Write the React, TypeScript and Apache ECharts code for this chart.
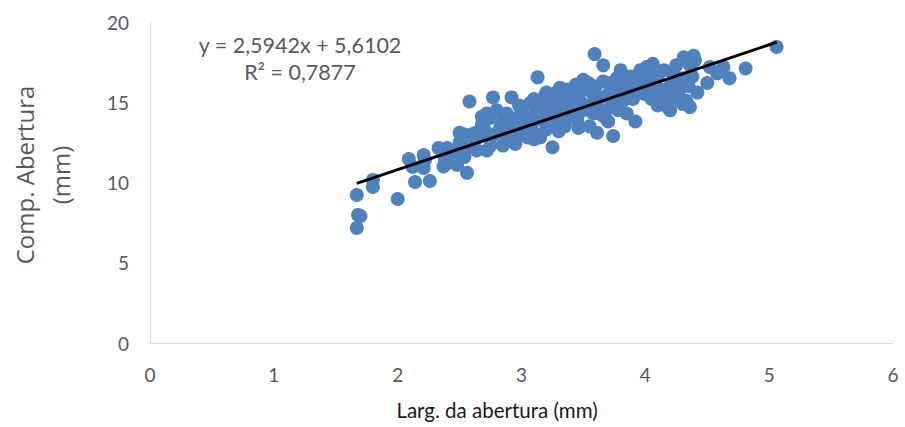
import React, { useEffect, useRef } from "react";
import * as echarts from "echarts";

const xTicks = [0, 1, 2, 3, 4, 5, 6];
const yTicks = [0, 5, 10, 15, 20];

const points: number[][] = [
  [1.67, 7.17], [1.68, 7.98], [1.70, 7.91], [1.67, 9.22], [1.80, 9.72], [1.80, 10.16], [2.00, 8.97],
  [2.09, 11.46], [2.12, 10.97], [2.14, 10.03], [2.21, 11.71], [2.22, 11.40], [2.21, 10.90], [2.26, 10.09],
  [2.33, 12.15], [2.40, 12.15], [2.40, 11.21], [2.37, 11.0], [2.48, 11.1], [2.38, 11.4], [2.54, 11.6],
  [2.56, 10.6], [2.58, 15.05], [2.50, 13.1], [2.53, 13.0], [2.64, 12.0], [2.72, 12.0], [2.63, 13.1],
  [2.68, 14.1], [2.77, 15.3], [2.75, 12.8], [2.88, 12.6], [2.96, 13.3], [3.0, 14.5], [2.85, 13.9],
  [2.80, 14.5], [3.05, 13.7], [2.92, 15.3], [2.72, 14.3], [2.83, 13.5], [2.88, 14.3], [3.01, 14.1],
  [2.93, 12.65], [2.99, 13.1], [3.15, 12.8], [3.07, 14.95], [3.2, 15.6], [3.13, 16.55], [3.25, 12.2],
  [3.34, 14.7], [3.29, 13.7], [3.42, 14.1], [3.46, 13.4], [3.47, 15.6], [3.31, 15.9], [3.5, 16.4],
  [3.59, 18.0], [3.66, 17.3], [3.58, 14.3], [3.59, 15.3], [3.61, 13.1], [3.74, 12.9], [3.72, 14.7],
  [3.74, 15.8], [3.82, 15.1], [3.85, 14.3], [3.92, 13.8], [3.88, 16.6], [3.8, 17.0], [3.96, 17.0],
  [3.96, 15.95], [4.01, 17.2], [4.04, 15.8], [4.06, 16.4], [4.06, 17.4], [4.1, 14.8], [4.12, 15.3],
  [4.18, 14.7], [4.2, 14.5], [4.22, 16.8], [4.28, 16.2], [4.31, 17.8], [4.39, 17.9], [4.36, 17.3],
  [4.42, 15.6], [4.36, 14.7], [4.5, 16.2], [4.52, 17.2], [4.58, 16.8], [4.63, 17.2], [4.68, 16.5],
  [4.81, 17.1], [5.06, 18.45],
  [2.6, 12.5], [2.65, 12.8], [2.7, 13.3], [2.78, 13.0], [2.82, 13.2], [2.9, 13.6], [2.95, 14.0],
  [3.0, 13.5], [3.03, 12.9], [3.08, 13.4], [3.1, 14.2], [3.12, 13.0], [3.15, 14.6], [3.18, 13.8],
  [3.2, 14.9], [3.22, 14.1], [3.25, 15.2], [3.28, 14.4], [3.3, 15.0], [3.33, 15.4], [3.36, 14.0],
  [3.38, 15.1], [3.4, 15.5], [3.43, 14.8], [3.45, 15.9], [3.48, 15.0], [3.5, 14.5], [3.52, 15.8],
  [3.54, 16.2], [3.55, 14.8], [3.57, 15.6], [3.6, 16.0], [3.62, 14.6], [3.64, 15.3], [3.66, 16.3],
  [3.68, 14.0], [3.7, 15.5], [3.72, 16.2], [3.75, 15.0], [3.77, 16.5], [3.78, 14.5], [3.8, 15.7],
  [3.83, 16.3], [3.85, 15.4], [3.87, 16.0], [3.9, 15.2], [3.93, 16.5], [3.95, 15.6], [3.98, 16.2],
  [4.0, 15.5], [4.02, 16.8], [4.05, 15.2], [4.08, 16.0], [4.1, 16.6], [4.13, 15.8], [4.15, 17.0],
  [4.17, 15.4], [4.2, 16.0], [4.23, 15.2], [4.25, 17.3], [4.27, 15.7], [4.3, 16.5], [4.33, 15.1],
  [4.35, 16.0], [4.38, 16.6], [4.4, 17.6], [4.3, 14.9], [4.15, 14.9], [3.7, 13.8], [3.65, 14.2],
  [3.55, 13.5], [3.45, 13.9], [3.35, 13.5], [3.3, 13.2], [3.2, 13.3], [3.1, 12.7], [3.05, 12.8],
  [2.95, 12.4], [2.85, 12.3], [2.75, 12.3], [2.6, 13.0], [2.55, 12.2], [2.45, 11.8], [2.43, 11.4],
  [2.5, 12.5], [2.68, 13.6], [2.74, 14.0], [2.98, 14.8], [3.1, 15.2], [3.18, 15.3], [3.28, 15.6],
  [3.37, 15.8], [3.44, 16.1],
];

const slope = 2.5942;
const intercept = 5.6102;
const trendX = [1.67, 5.06];
const equationText = "y = 2,5942x + 5,6102";
const r2Text = "R² = 0,7877";
const xTitle = "Larg. da abertura (mm)";
const yTitle = "Comp. Abertura\n(mm)";

const FONT = "Lato";

export default function App() {
  const ref = useRef<HTMLDivElement>(null);
  useEffect(() => {
    if (!ref.current) return;
    const chart = echarts.init(ref.current, undefined, { renderer: "svg" });
    const trend = trendX.map((x) => [x, slope * x + intercept]);
    chart.setOption({
      animation: false,
      backgroundColor: "#ffffff",
      grid: { left: 150, right: 12, top: 22, bottom: 84 },
      xAxis: {
        type: "value",
        min: xTicks[0],
        max: xTicks[xTicks.length - 1],
        interval: 1,
        axisLine: { show: true, lineStyle: { color: "#d9d9d9", width: 1 } },
        axisTick: { show: false },
        splitLine: { show: false },
        axisLabel: { color: "#595959", fontSize: 19, fontFamily: FONT, margin: 22 },
      },
      yAxis: {
        type: "value",
        min: yTicks[0],
        max: yTicks[yTicks.length - 1],
        interval: 5,
        axisLine: { show: true, lineStyle: { color: "#d9d9d9", width: 1 } },
        axisTick: { show: false },
        splitLine: { show: false },
        axisLabel: { color: "#595959", fontSize: 19, fontFamily: FONT, margin: 21 },
      },
      graphic: [
        {
          type: "text",
          x: 300,
          y: 45,
          style: {
            text: equationText,
            fill: "#595959",
            fontSize: 21.5,
            fontFamily: FONT,
            textAlign: "center",
            textVerticalAlign: "middle",
          },
        },
        {
          type: "text",
          x: 300,
          y: 72,
          style: {
            text: r2Text,
            fill: "#595959",
            fontSize: 21.5,
            fontFamily: FONT,
            textAlign: "center",
            textVerticalAlign: "middle",
          },
        },
        {
          type: "text",
          x: 497,
          y: 410,
          style: {
            text: xTitle,
            fill: "#1a1a1a",
            fontSize: 20.5,
            fontFamily: FONT,
            textAlign: "center",
            textVerticalAlign: "middle",
          },
        },
        {
          type: "text",
          x: 42,
          y: 175,
          rotation: Math.PI / 2,
          style: {
            text: yTitle,
            fill: "#595959",
            fontSize: 24,
            fontFamily: "Open Sans",
            textAlign: "center",
            textVerticalAlign: "middle",
            lineHeight: 36,
          },
        },
      ],
      series: [
        {
          type: "scatter",
          data: points,
          symbol: "circle",
          symbolSize: 14,
          itemStyle: { color: "#4f81bd", opacity: 1 },
          z: 2,
        },
        {
          type: "line",
          data: trend,
          symbol: "none",
          lineStyle: { color: "#000000", width: 3 },
          z: 3,
        },
      ],
    });
    return () => chart.dispose();
  }, []);
  return (
    <div
      ref={ref}
      style={{ position: "fixed", left: 0, top: 0, width: 905, height: 427 }}
    />
  );
}
